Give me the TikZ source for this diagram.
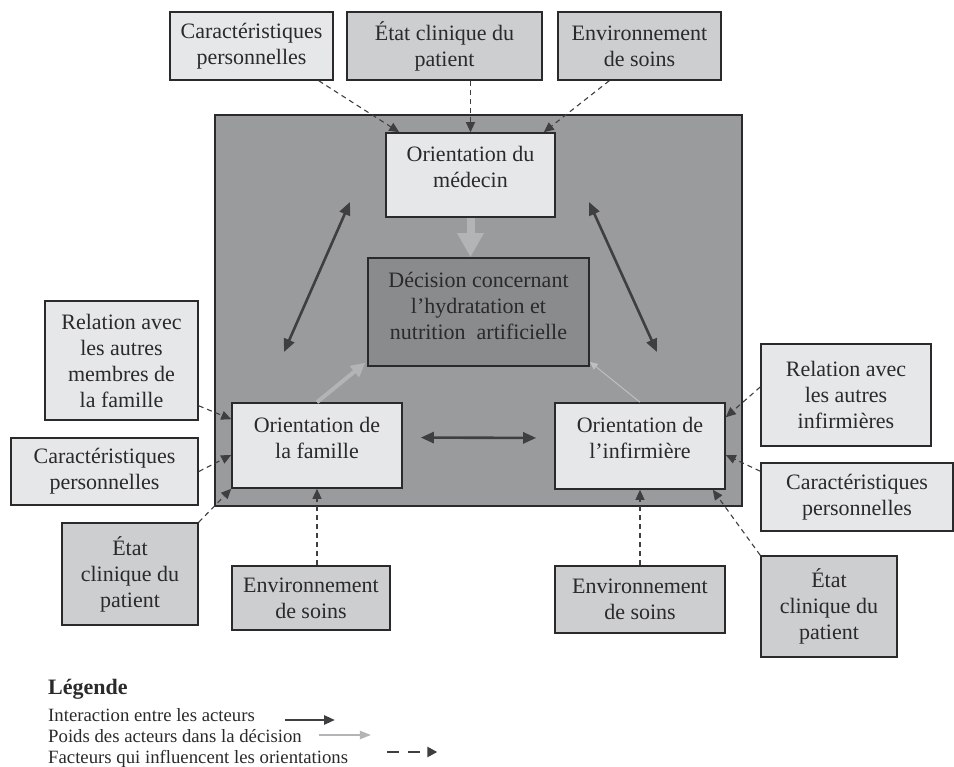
\documentclass[tikz,border=0pt]{standalone}
\usepackage{fontspec}
\setmainfont{Liberation Serif}
\usepackage{tikz}
\usetikzlibrary{arrows.meta,calc,positioning}
\definecolor{Ink}{HTML}{3F3F41}
\definecolor{Edge}{HTML}{2A2A2C}
\definecolor{Frame}{HTML}{9A9B9D}
\definecolor{Core}{HTML}{8A8B8D}
\definecolor{PaleGrey}{HTML}{E6E7E8}
\definecolor{MidGrey}{HTML}{CDCED0}
\definecolor{Weight}{HTML}{B3B4B6}

\begin{document}
\begin{tikzpicture}[x=1pt,y=-1pt,
  light/.style={draw=Edge,line width=1.6pt,fill=PaleGrey,text=Edge,align=center,inner sep=2pt,font=\fontsize{22}{26}\selectfont},
  mid/.style={light,fill=MidGrey},
  frame/.style={draw=Edge,line width=1.6pt,fill=Frame,inner sep=0pt},
  inter/.style={{Triangle[length=13pt,width=11pt]}-{Triangle[length=13pt,width=11pt]},line width=2.6pt,color=Ink},
  weight/.style={-{Triangle[length=14pt,width=14pt]},line width=4pt,color=Weight},
  factor/.style={-{Triangle[length=10pt,width=9pt]},line width=1.1pt,dash pattern=on 5pt off 4pt,color=Ink},
  legend/.style={anchor=base west,inner sep=0pt,text=Edge,font=\fontsize{18.75}{21}\selectfont}
]
\useasboundingbox (0,0) rectangle (954,767);
\node[frame,minimum width=527pt,minimum height=391pt] (cadre) at (478.5,310.5) {};
% facteurs en haut
\node[light,minimum width=163pt,minimum height=68pt] (carH) at (251.5,46) {Caractéristiques\\personnelles};
\node[mid,minimum width=195pt,minimum height=68pt] (etatH) at (444.5,46) {État clinique du\\patient};
\node[mid,minimum width=163pt,minimum height=68pt] (envH) at (639.5,46) {Environnement\\de soins};
% acteurs et decision
\node[light,minimum width=169pt,minimum height=84pt] (med) at (470.5,175) {Orientation du\\médecin\\[-10pt]\mbox{}};
\node[light,fill=Core,minimum width=221pt,minimum height=108pt] (dec) at (478.5,312) {Décision concernant\\l’hydratation et\\nutrition~ artificielle\\[-14pt]\mbox{}};
\node[light,minimum width=170pt,minimum height=85pt] (fam) at (317,445.5) {Orientation de\\la famille\\[-10pt]\mbox{}};
\node[light,minimum width=170pt,minimum height=86pt] (inf) at (640,446) {Orientation de\\l’infirmière\\[-10pt]\mbox{}};
% facteurs a gauche
\node[light,minimum width=153pt,minimum height=119pt] (relG) at (121.5,360.5) {Relation avec\\les autres\\membres de\\la famille};
\node[light,minimum width=187pt,minimum height=67pt] (carG) at (104.5,471.5) {Caractéristiques\\personnelles};
\node[mid,minimum width=136pt,minimum height=102pt] (etatG) at (130,574) {État\\clinique du\\patient};
\node[mid,minimum width=158pt,minimum height=64pt] (envG) at (311,598) {Environnement\\de soins};
% facteurs a droite
\node[mid,minimum width=170pt,minimum height=67pt] (envD) at (640,599.5) {Environnement\\de soins};
\node[light,minimum width=170pt,minimum height=102pt] (relD) at (846,395) {Relation avec\\les autres\\infirmières};
\node[light,minimum width=192pt,minimum height=68pt] (carD) at (857,497) {Caractéristiques\\personnelles};
\node[mid,minimum width=136pt,minimum height=101pt] (etatD) at (829,606.5) {État\\clinique du\\patient};

\draw[factor] ($(carH.south east)+(-15,0)$) -- ($(med.north west)+(14,0)$);
\draw[factor] (etatH.south -| med.north) -- (med.north);
\draw[factor] ($(envH.south west)+(52,0)$) -- ($(med.north east)+(-12,0)$);
\draw[factor] ($(relG.south east)+(0,-15)$) -- ($(fam.north west)+(0,17)$);
\draw[factor] (carG.east) -- ($(fam.west)+(0,9.5)$);
\draw[factor] (etatG.north east) -- (fam.south west);
\draw[factor] (envG.north -| fam.south) -- (fam.south);
\draw[factor] ($(relD.west)+(0,-8)$) -- ($(inf.north east)+(0,15)$);
\draw[factor] ($(carD.north west)+(0,9)$) -- ($(inf.east)+(0,9)$);
\draw[factor] (etatD.north west) -- ($(inf.south east)+(-13,0)$);
\draw[factor] (envD.north) -- (inf.south);

\coordinate (mfH) at (350,202);
\coordinate (mfB) at (284,352);
\coordinate (miH) at (589,202);
\coordinate (miB) at (657,352);
\draw[inter] (mfH) -- (mfB);
\draw[inter] (miH) -- (miB);
\draw[inter,shorten <=18pt,shorten >=18pt] ([yshift=8pt]fam.east) -- ([yshift=8pt]inf.west);

\draw[weight,line width=8pt,-{Triangle[length=24pt,width=25pt]}] (med.south) -- (med.south |- dec.north);
\draw[weight] (fam.north) -- ($(dec.south west)+(-2,-4)$);
\draw[weight,line width=1pt,color=Weight!85,-{Triangle[length=8pt,width=7pt]}] (inf.north) -- ($(dec.south east)+(0,-5)$);

% legende
\node[legend,font=\bfseries\fontsize{22}{26}\selectfont] (lgTitre) at (48,694) {Légende};
\node[legend] (lgInter) at (48,721) {Interaction entre les acteurs};
\node[legend] (lgPoids) at (48,742) {Poids des acteurs dans la décision};
\node[legend] (lgFact) at (48,763) {Facteurs qui influencent les orientations};
\draw[inter,-{Triangle[length=11pt,width=9pt]}] ([xshift=30pt,yshift=1pt]lgInter.base east) -- ++(50,0);
\draw[weight,line width=2pt,-{Triangle[length=11pt,width=8pt]}] ([xshift=17pt,yshift=7pt]lgPoids.base east) -- ++(52,0);
\draw[factor,line width=2.5pt,dash pattern=on 12pt off 9pt,-{Triangle[length=10pt,width=10pt]}] ([xshift=39pt,yshift=11pt]lgFact.base east) -- ++(50,0);
\end{tikzpicture}
\end{document}
